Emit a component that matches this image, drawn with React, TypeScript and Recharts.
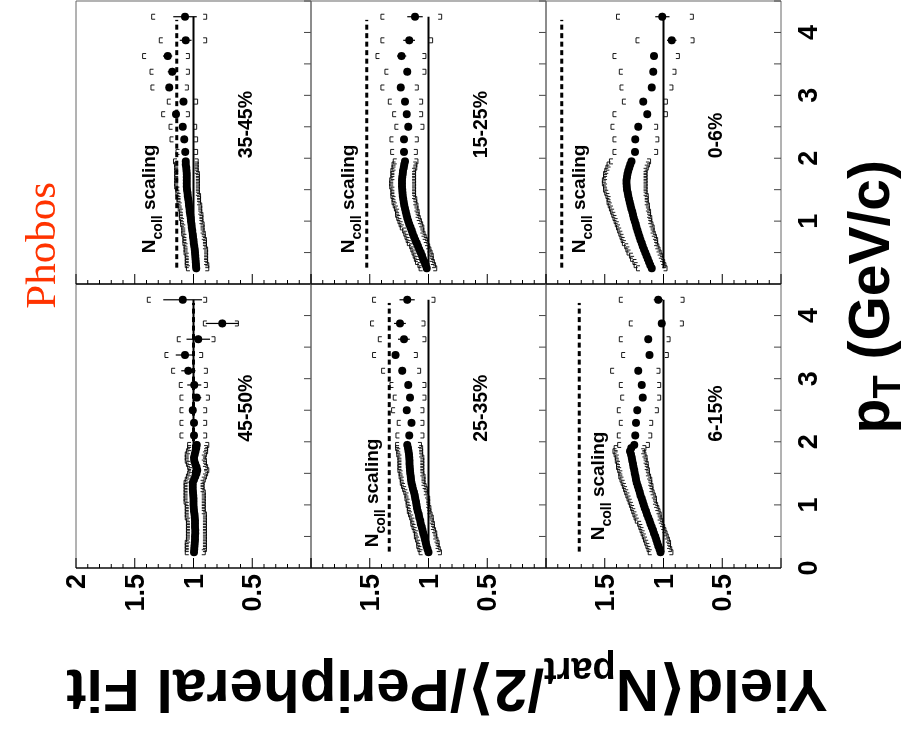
import React from 'react';
import {
  ComposedChart,
  XAxis,
  YAxis,
  Scatter,
  ErrorBar,
  ReferenceLine,
  ReferenceArea,
} from 'recharts';

const SANS = "'Liberation Sans', Arial, Helvetica, 'DejaVu Sans', sans-serif";
const SERIF = "'Liberation Serif', 'Times New Roman', serif";

// transverse momentum bin centres (GeV/c): fine bins to 2 GeV/c, then coarse bins
const PT = [
  0.25, 0.3, 0.35, 0.4, 0.45, 0.5, 0.55, 0.6, 0.65, 0.7, 0.75, 0.8, 0.85, 0.9, 0.95,
  1.0, 1.05, 1.1, 1.15, 1.2, 1.25, 1.3, 1.35, 1.4, 1.45, 1.5, 1.55, 1.6, 1.65, 1.7,
  1.75, 1.8, 1.85, 1.9, 1.95,
  2.1, 2.3, 2.5, 2.7, 2.9, 3.125, 3.375, 3.625, 3.875, 4.25,
];

const PT_TICKS = [0, 0.5, 1, 1.5, 2, 2.5, 3, 3.5, 4, 4.5];
const RATIO_TICKS = [0, 0.1, 0.2, 0.3, 0.4, 0.5, 0.6, 0.7, 0.8, 0.9, 1, 1.1, 1.2, 1.3, 1.4, 1.5, 1.6, 1.7, 1.8, 1.9, 2];

const CENTRALITY = ['45-50%', '35-45%', '25-35%', '15-25%', '6-15%', '0-6%'];

// N_coll scaling expectation (dashed line) per centrality bin
const NCOLL_LEVEL = [1.0, 1.143, 1.333, 1.526, 1.717, 1.866];
// anchor of the "N_coll scaling" caption (pT, ratio); none in the most peripheral bin
const NCOLL_TEXT_PT = [null, 0.49, 0.33, 0.49, 0.44, 0.49];
const NCOLL_TEXT_R = [null, 1.33, 1.43, 1.63, 1.51, 1.67];

// ---- 45-50% ----
const R_4550 = [
  0.996, 0.994, 0.992, 0.99, 0.988, 0.987, 0.986, 0.986, 0.987, 0.987, 0.988, 0.99, 0.992, 0.995, 0.997,
  0.999, 1.0, 1.001, 1.002, 1.004, 1.006, 1.007, 1.006, 0.995, 0.985, 0.975, 0.968, 0.975, 0.985, 0.993,
  0.996, 0.99, 0.982, 0.976, 0.973,
  0.996, 0.996, 1.007, 0.973, 0.993, 1.044, 1.072, 0.959, 0.755, 1.092,
];
const STAT_4550 = [0.02, 0.02, 0.03, 0.04, 0.06, 0.06, 0.08, 0.1, 0.14, 0.165];
const HI_4550 = [
  1.07, 1.07, 1.07, 1.07, 1.06, 1.06, 1.06, 1.06, 1.06, 1.06, 1.06, 1.07, 1.07, 1.07, 1.07,
  1.07, 1.08, 1.08, 1.08, 1.08, 1.08, 1.08, 1.08, 1.07, 1.06, 1.05, 1.04, 1.05, 1.06, 1.07,
  1.07, 1.07, 1.06, 1.05, 1.05,
  1.115, 1.115, 1.115, 1.115, 1.121, 1.186, 1.243, 1.138, 0.916, 1.393,
];
const LO_4550 = [
  0.9, 0.89, 0.89, 0.89, 0.89, 0.89, 0.89, 0.89, 0.89, 0.89, 0.89, 0.89, 0.89, 0.9, 0.9,
  0.9, 0.9, 0.9, 0.9, 0.9, 0.91, 0.91, 0.91, 0.9, 0.89, 0.88, 0.87, 0.88, 0.89, 0.89,
  0.9, 0.89, 0.88, 0.88, 0.87,
  0.888, 0.888, 0.888, 0.865, 0.882, 0.882, 0.922, 0.817, 0.618, 0.888,
];

// ---- 35-45% ----
const R_3545 = [
  0.977, 0.979, 0.981, 0.983, 0.985, 0.987, 0.99, 0.994, 0.997, 1.0, 1.004, 1.007, 1.011, 1.014, 1.017,
  1.021, 1.024, 1.028, 1.031, 1.034, 1.038, 1.041, 1.044, 1.048, 1.051, 1.055, 1.058, 1.058, 1.058, 1.058,
  1.058, 1.06, 1.062, 1.065, 1.067,
  1.07, 1.078, 1.092, 1.149, 1.086, 1.206, 1.18, 1.22, 1.067, 1.072,
];
const STAT_3545 = [0.015, 0.02, 0.02, 0.025, 0.03, 0.03, 0.04, 0.04, 0.05, 0.1];
const HI_3545 = [
  1.06, 1.07, 1.07, 1.07, 1.07, 1.08, 1.08, 1.08, 1.09, 1.09, 1.09, 1.1, 1.1, 1.1, 1.11,
  1.11, 1.12, 1.12, 1.12, 1.13, 1.13, 1.14, 1.14, 1.14, 1.15, 1.15, 1.16, 1.16, 1.16, 1.16,
  1.16, 1.16, 1.16, 1.16, 1.17,
  1.149, 1.2, 1.208, 1.271, 1.223, 1.362, 1.37, 1.433, 1.291, 1.356,
];
const LO_3545 = [
  0.87, 0.87, 0.88, 0.88, 0.88, 0.88, 0.88, 0.89, 0.89, 0.89, 0.9, 0.9, 0.91, 0.91, 0.91,
  0.92, 0.92, 0.92, 0.93, 0.93, 0.93, 0.94, 0.94, 0.94, 0.95, 0.95, 0.95, 0.95, 0.95, 0.95,
  0.95, 0.96, 0.96, 0.96, 0.96,
  0.965, 0.965, 0.973, 1.035, 0.965, 1.044, 1.035, 1.035, 0.888, 0.888,
];

// ---- 25-35% ----
const R_2535 = [
  1.0, 1.008, 1.016, 1.023, 1.03, 1.037, 1.044, 1.051, 1.058, 1.065, 1.071, 1.078, 1.084, 1.091, 1.097,
  1.102, 1.107, 1.112, 1.117, 1.124, 1.131, 1.138, 1.144, 1.148, 1.152, 1.155, 1.158, 1.159, 1.161, 1.162,
  1.163, 1.166, 1.17, 1.175, 1.181,
  1.164, 1.144, 1.186, 1.158, 1.172, 1.223, 1.28, 1.209, 1.243, 1.181,
];
const STAT_2535 = [0.015, 0.02, 0.02, 0.02, 0.025, 0.03, 0.03, 0.05, 0.05, 0.065];
const HI_2535 = [
  1.08, 1.09, 1.1, 1.1, 1.11, 1.12, 1.12, 1.13, 1.14, 1.15, 1.15, 1.16, 1.17, 1.18, 1.18,
  1.19, 1.19, 1.2, 1.2, 1.21, 1.22, 1.23, 1.24, 1.24, 1.25, 1.25, 1.26, 1.26, 1.26, 1.26,
  1.26, 1.27, 1.27, 1.28, 1.28,
  1.277, 1.266, 1.314, 1.3, 1.328, 1.399, 1.476, 1.427, 1.493, 1.476,
];
const LO_2535 = [
  0.89, 0.9, 0.91, 0.91, 0.92, 0.93, 0.93, 0.94, 0.95, 0.95, 0.96, 0.96, 0.97, 0.98, 0.98,
  0.99, 0.99, 0.99, 1.0, 1.01, 1.01, 1.02, 1.03, 1.03, 1.03, 1.04, 1.04, 1.04, 1.04, 1.04,
  1.04, 1.05, 1.05, 1.05, 1.06,
  1.039, 1.039, 1.039, 1.022, 1.022, 1.067, 1.095, 1.022, 1.03, 0.945,
];

// ---- 15-25% ----
const R_1525 = [
  1.014, 1.024, 1.035, 1.046, 1.056, 1.067, 1.078, 1.09, 1.101, 1.113, 1.123, 1.133, 1.143, 1.153, 1.163,
  1.172, 1.18, 1.187, 1.194, 1.2, 1.206, 1.211, 1.215, 1.219, 1.222, 1.224, 1.226, 1.226, 1.225, 1.223,
  1.22, 1.216, 1.211, 1.206, 1.2,
  1.209, 1.209, 1.172, 1.186, 1.2, 1.237, 1.181, 1.229, 1.164, 1.115,
];
const STAT_1525 = [0.015, 0.02, 0.02, 0.02, 0.025, 0.03, 0.03, 0.04, 0.05, 0.065];
const HI_1525 = [
  1.08, 1.09, 1.11, 1.12, 1.13, 1.14, 1.15, 1.16, 1.18, 1.19, 1.2, 1.21, 1.22, 1.24, 1.25,
  1.26, 1.27, 1.28, 1.28, 1.29, 1.3, 1.31, 1.31, 1.32, 1.32, 1.32, 1.33, 1.33, 1.33, 1.32,
  1.32, 1.32, 1.31, 1.31, 1.3,
  1.322, 1.328, 1.286, 1.305, 1.342, 1.405, 1.371, 1.447, 1.405, 1.405,
];
const LO_1525 = [
  0.93, 0.94, 0.95, 0.96, 0.96, 0.97, 0.98, 0.99, 1.0, 1.01, 1.02, 1.03, 1.04, 1.04, 1.05,
  1.06, 1.07, 1.08, 1.08, 1.09, 1.09, 1.1, 1.1, 1.11, 1.11, 1.11, 1.11, 1.11, 1.11, 1.11,
  1.11, 1.11, 1.1, 1.1, 1.09,
  1.095, 1.087, 1.039, 1.05, 1.05, 1.087, 1.022, 1.022, 0.965, 0.888,
];

// ---- 6-15% ----
const R_0615 = [
  1.026, 1.035, 1.044, 1.053, 1.062, 1.071, 1.08, 1.09, 1.1, 1.11, 1.12, 1.13, 1.14, 1.15, 1.16,
  1.169, 1.177, 1.186, 1.195, 1.203, 1.211, 1.219, 1.227, 1.233, 1.239, 1.245, 1.25, 1.255, 1.26, 1.265,
  1.27, 1.276, 1.285, 1.275, 1.25,
  1.24, 1.234, 1.223, 1.177, 1.186, 1.214, 1.12, 1.129, 1.015, 1.044,
];
const STAT_0615 = [0.015, 0.02, 0.02, 0.02, 0.02, 0.025, 0.025, 0.03, 0.03, 0.04];
const HI_0615 = [
  1.13, 1.14, 1.15, 1.16, 1.17, 1.18, 1.19, 1.2, 1.21, 1.22, 1.24, 1.25, 1.26, 1.27, 1.28,
  1.29, 1.3, 1.31, 1.32, 1.33, 1.34, 1.35, 1.36, 1.37, 1.38, 1.38, 1.39, 1.4, 1.4, 1.41,
  1.41, 1.42, 1.43, 1.42, 1.39,
  1.393, 1.376, 1.393, 1.364, 1.376, 1.45, 1.356, 1.376, 1.291, 1.376,
];
const LO_0615 = [
  0.92, 0.93, 0.94, 0.94, 0.95, 0.96, 0.97, 0.98, 0.99, 1.0, 1.01, 1.02, 1.02, 1.03, 1.04,
  1.05, 1.06, 1.06, 1.07, 1.08, 1.09, 1.09, 1.1, 1.1, 1.11, 1.12, 1.12, 1.13, 1.13, 1.14,
  1.14, 1.15, 1.16, 1.15, 1.12,
  1.1, 1.092, 1.044, 1.024, 1.024, 1.03, 0.959, 0.944, 0.831, 0.825,
];

// ---- 0-6% ----
const R_0006 = [
  1.1, 1.112, 1.123, 1.134, 1.145, 1.156, 1.166, 1.176, 1.186, 1.195, 1.204, 1.212, 1.221, 1.229, 1.237,
  1.245, 1.253, 1.26, 1.267, 1.274, 1.281, 1.287, 1.293, 1.299, 1.305, 1.31, 1.313, 1.315, 1.314, 1.311,
  1.306, 1.3, 1.292, 1.283, 1.272,
  1.243, 1.24, 1.214, 1.138, 1.172, 1.1, 1.087, 1.081, 0.93, 1.01,
];
const STAT_0006 = [0.015, 0.015, 0.02, 0.02, 0.02, 0.025, 0.025, 0.03, 0.04, 0.06];
const HI_0006 = [
  1.23, 1.25, 1.26, 1.28, 1.29, 1.31, 1.32, 1.33, 1.35, 1.36, 1.37, 1.38, 1.39, 1.4, 1.41,
  1.42, 1.43, 1.44, 1.45, 1.46, 1.47, 1.48, 1.48, 1.49, 1.5, 1.51, 1.51, 1.52, 1.52, 1.51,
  1.51, 1.5, 1.49, 1.48, 1.46,
  1.43, 1.43, 1.447, 1.43, 1.35, 1.37, 1.376, 1.43, 1.234, 1.4,
];
const LO_0006 = [
  0.97, 0.98, 0.99, 1.0, 1.01, 1.02, 1.03, 1.04, 1.05, 1.05, 1.06, 1.07, 1.08, 1.08, 1.09,
  1.1, 1.1, 1.11, 1.11, 1.12, 1.12, 1.13, 1.13, 1.13, 1.14, 1.14, 1.14, 1.14, 1.14, 1.14,
  1.14, 1.14, 1.13, 1.12, 1.11,
  1.05, 1.04, 1.05, 0.967, 0.967, 0.92, 0.894, 0.865, 0.74, 0.746,
];

const SERIES = [
  { r: R_4550, stat: STAT_4550, hi: HI_4550, lo: LO_4550 },
  { r: R_3545, stat: STAT_3545, hi: HI_3545, lo: LO_3545 },
  { r: R_2535, stat: STAT_2535, hi: HI_2535, lo: LO_2535 },
  { r: R_1525, stat: STAT_1525, hi: HI_1525, lo: LO_1525 },
  { r: R_0615, stat: STAT_0615, hi: HI_0615, lo: LO_0615 },
  { r: R_0006, stat: STAT_0006, hi: HI_0006, lo: LO_0006 },
];

// frame geometry of the 3x2 grid (before the page-level rotation)
const COL_LEFT = [172, 456];
const COL_WIDTH = [284, 283];
const ROW_TOP = [76, 311, 546];
const ROW_HEIGHT = 235;
const AX_W = 70;
const AX_H = 60;
const PAD_T = 30;
const PAD_R = 12;

const fmtRatio = (v: number) => (Math.abs(v - Math.round(v)) < 1e-6 ? String(Math.round(v)) : String(v));

const ratioTick = (withLabels: boolean, withTop: boolean) => (p: any) => {
  const v = p.payload.value as number;
  const major = Math.abs(v * 2 - Math.round(v * 2)) < 1e-6;
  const len = major ? 10 : 4;
  const show = withLabels && major && v > 0.01 && (v < 1.99 || withTop);
  return (
    <g>
      <line x1={p.x} x2={p.x + len} y1={p.y} y2={p.y} stroke="#000" strokeWidth={1} />
      {show ? (
        <text x={p.x - 6} y={p.y} textAnchor="end" dominantBaseline="central"
          fontFamily={SANS} fontWeight="bold" fontSize={27} fill="#000">
          {fmtRatio(v)}
        </text>
      ) : null}
    </g>
  );
};

const ptTick = (withLabels: boolean, withZero: boolean) => (p: any) => {
  const v = p.payload.value as number;
  const isInt = Math.abs(v - Math.round(v)) < 1e-6;
  const show = withLabels && isInt && (v > 0.01 || withZero);
  return (
    <g>
      <line x1={p.x} x2={p.x} y1={p.y} y2={p.y - 7} stroke="#444" strokeWidth={1} />
      {show ? (
        <text x={p.x} y={p.y + 36} textAnchor="middle"
          fontFamily={SANS} fontWeight="bold" fontSize={27} fill="#000">
          {Math.round(v)}
        </text>
      ) : null}
    </g>
  );
};

const Dot = (p: any) => <circle cx={p.cx} cy={p.cy} r={4} fill="#000" />;
const UpperBracket = (p: any) => (
  <path d={`M${p.cx - 2.5},${p.cy + 3.5}V${p.cy}H${p.cx + 2.5}V${p.cy + 3.5}`}
    fill="none" stroke="#000" strokeWidth={0.9} />
);
const LowerBracket = (p: any) => (
  <path d={`M${p.cx - 2.5},${p.cy - 3.5}V${p.cy}H${p.cx + 2.5}V${p.cy - 3.5}`}
    fill="none" stroke="#000" strokeWidth={0.9} />
);

function Panel({ idx }: { idx: number }) {
  const row = Math.floor(idx / 2);
  const col = idx % 2;
  const s = SERIES[idx];
  const coarseStart = PT.length - s.stat.length;
  const table = PT.map((pt, i) => ({
    pt,
    r: s.r[i],
    hi: s.hi[i],
    lo: s.lo[i],
    err: i >= coarseStart ? s.stat[i - coarseStart] : 0,
  }));
  const w = COL_WIDTH[col];
  const label = [{ pt: 2.0, r: 0.5 }];
  const ncollPt = NCOLL_TEXT_PT[idx];
  const ncollR = NCOLL_TEXT_R[idx];
  const ncollText = ncollPt !== null && ncollR !== null ? [{ pt: ncollPt, r: ncollR }] : [];

  return (
    <div style={{ position: 'absolute', left: COL_LEFT[col] - AX_W, top: ROW_TOP[row] - PAD_T }}>
      <ComposedChart
        width={AX_W + w + PAD_R}
        height={PAD_T + ROW_HEIGHT + AX_H}
        margin={{ top: PAD_T, right: PAD_R, bottom: 0, left: 0 }}
      >
        <XAxis type="number" dataKey="pt" domain={[0, 4.5]} ticks={PT_TICKS} interval={0}
          allowDataOverflow height={AX_H} axisLine={false} tickLine={false}
          tickSize={0} tickMargin={0} tick={ptTick(row === 2, col === 0)} />
        <YAxis type="number" domain={[0, 2]} ticks={RATIO_TICKS} interval={0}
          allowDataOverflow width={AX_W} axisLine={false} tickLine={false}
          tickSize={0} tickMargin={0} tick={ratioTick(col === 0, row === 0)} />
        <ReferenceArea x1={0} x2={4.5} y1={0} y2={2} fill="none" fillOpacity={0}
          stroke="#666" strokeWidth={1} ifOverflow="visible" />
        <ReferenceLine x={0} stroke="#000" strokeWidth={1.2} ifOverflow="visible" />
        <ReferenceLine segment={[{ x: 0.26, y: NCOLL_LEVEL[idx] }, { x: 4.2, y: NCOLL_LEVEL[idx] }]}
          stroke="#000" strokeWidth={3} strokeDasharray="5 3.5" />
        <ReferenceLine segment={[{ x: 0.25, y: 1 }, { x: 4.25, y: 1 }]}
          stroke="#000" strokeWidth={2.2} />
        <Scatter data={table} dataKey="hi" shape={UpperBracket} isAnimationActive={false} />
        <Scatter data={table} dataKey="lo" shape={LowerBracket} isAnimationActive={false} />
        <Scatter data={table} dataKey="r" shape={Dot} isAnimationActive={false}>
          <ErrorBar dataKey="err" direction="y" width={0} stroke="#000" strokeWidth={1.2} />
        </Scatter>
        <Scatter data={label} dataKey="r" isAnimationActive={false}
          shape={(p: any) => (
            <text x={p.cx} y={p.cy} fontFamily={SANS} fontWeight="bold" fontSize={19.5} fill="#000">
              {CENTRALITY[idx]}
            </text>
          )} />
        <Scatter data={ncollText} dataKey="r" isAnimationActive={false}
          shape={(p: any) => (
            <text x={p.cx} y={p.cy} fontFamily={SANS} fontWeight="bold" fontSize={19} fill="#000">
              N<tspan fontSize={14} dy={7}>coll</tspan>
              <tspan dy={-7}> scaling</tspan>
            </text>
          )} />
      </ComposedChart>
    </div>
  );
}

export default function App() {
  return (
    <div
      style={{
        position: 'fixed',
        left: 0,
        top: 0,
        width: 740,
        height: 911,
        background: '#fff',
        transformOrigin: '0 0',
        transform: 'translateY(740px) rotate(-90deg)',
        overflow: 'hidden',
      }}
    >
      <svg width={740} height={911} style={{ position: 'absolute', left: 0, top: 0 }}>
        <text x={558} y={55} textAnchor="end" fontFamily={SERIF} fontSize={43} fill="#ff3300">
          Phobos
        </text>
        <text x={580} y={889} textAnchor="end" fontFamily={SANS} fontWeight="bold" fontSize={57} fill="#000">
          p<tspan fontSize={38} dy={11}>T</tspan>
          <tspan dy={-11}> (GeV/c)</tspan>
        </text>
        <text x={70} y={447} transform="rotate(-90 70 447)" textAnchor="middle"
          fontFamily={SANS} fontWeight="bold" fontSize={60} fill="#000">
          Yield⟨N<tspan fontSize={38} dy={12}>part</tspan>
          <tspan dy={-12}>/2⟩/Peripheral Fit</tspan>
        </text>
      </svg>
      {[0, 1, 2, 3, 4, 5].map((i) => (
        <Panel key={i} idx={i} />
      ))}
    </div>
  );
}
